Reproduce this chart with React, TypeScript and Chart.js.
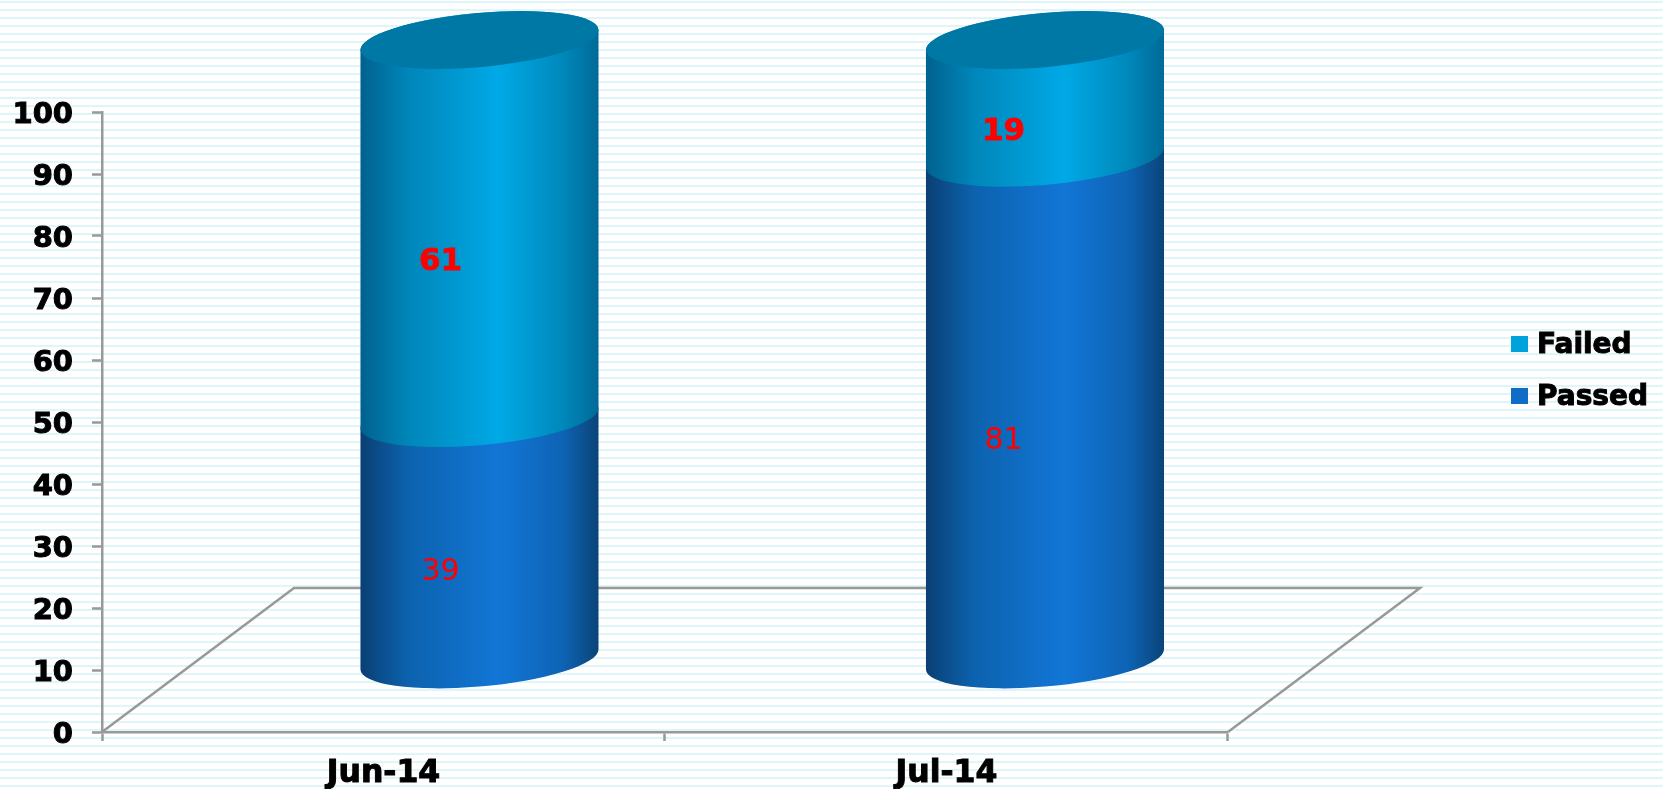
import React, { useEffect, useRef } from "react";
import { Chart, registerables } from "chart.js";

Chart.register(...registerables);

const months = ["Jun-14", "Jul-14"];
const passed = [39, 81];
const failed = [61, 19];
const yTicksMax = 100;

const FONT = "'DejaVu Sans'";
const AXIS_GREY = "#999999";
const AXIS_WIDTH = 2.5;

// Half of the floor depth: the cylinders stand in the middle of the floor.
const DEPTH_X = 96;
const DEPTH_Y = 72;
const SPREAD = 2.5;
const TILT = (-5.07 * Math.PI) / 180;
const MINOR_AXIS = 27;

type Ramp = [number, string][];
const failedRamp: Ramp = [
  [0, "#00618f"],
  [0.2, "#0086b9"],
  [0.58, "#00a9e6"],
  [0.85, "#0088ba"],
  [1, "#006a97"],
];
const passedRamp: Ramp = [
  [0, "#0a3f73"],
  [0.2, "#0c62ae"],
  [0.58, "#1276d6"],
  [0.85, "#0e63b4"],
  [1, "#0a4478"],
];
const CAP_COLOR = "#0078a6";

const cylinder = {
  id: "cylinder",
  beforeDatasetsDraw(chart: any) {
    const { ctx, chartArea: area } = chart;
    const x0 = area.left;
    const x1 = area.right;
    const y0 = area.bottom;

    // Floor outline
    ctx.save();
    ctx.strokeStyle = AXIS_GREY;
    ctx.lineWidth = AXIS_WIDTH;
    ctx.beginPath();
    ctx.moveTo(x0, y0);
    ctx.lineTo(x0 + DEPTH_X * 2, y0 - DEPTH_Y * 2);
    ctx.lineTo(x1 + DEPTH_X * 2, y0 - DEPTH_Y * 2);
    ctx.lineTo(x1, y0);
    ctx.stroke();

    const ramps = [passedRamp, failedRamp];
    const metas = [chart.getDatasetMeta(0), chart.getDatasetMeta(1)];

    months.forEach((_, i) => {
      const first = metas[0].data[i];
      const cx = first.x + DEPTH_X + i * SPREAD;
      const hw = first.width / 2;
      const a = hw * 1.0033;
      const start = Math.atan2(-MINOR_AXIS * Math.sin(TILT), a * Math.cos(TILT));

      const grad = (ramp: Ramp) => {
        const g = ctx.createLinearGradient(cx - hw, 0, cx + hw, 0);
        ramp.forEach(([p, c]) => g.addColorStop(p, c));
        return g;
      };

      metas.forEach((meta, d) => {
        const bar = meta.data[i];
        const yBase = bar.base - DEPTH_Y;
        const yTop = bar.y - DEPTH_Y;
        ctx.fillStyle = grad(ramps[d]);
        ctx.beginPath();
        ctx.ellipse(cx, yBase, a, MINOR_AXIS, TILT, start, start + Math.PI, false);
        ctx.ellipse(cx, yTop, a, MINOR_AXIS, TILT, start + Math.PI, start + 2 * Math.PI, false);
        ctx.closePath();
        ctx.fill();
      });

      const topY = metas[1].data[i].y - DEPTH_Y;
      ctx.fillStyle = CAP_COLOR;
      ctx.beginPath();
      ctx.ellipse(cx, topY, a, MINOR_AXIS, TILT, 0, Math.PI * 2);
      ctx.fill();
    });

    // Value labels sit a little in front of the cylinder centre.
    ctx.fillStyle = "#ff0000";
    ctx.strokeStyle = "#ff0000";
    ctx.lineWidth = 0.8;
    ctx.textAlign = "center";
    ctx.textBaseline = "middle";
    metas.forEach((meta, d) => {
      ctx.font = `${d === 1 ? "bold 31px" : "30px"} ${FONT}`;
      const values = d === 1 ? failed : passed;
      meta.data.forEach((bar: any, i: number) => {
        const lx = bar.x + 57;
        const ly = (bar.y + bar.base) / 2 - 39;
        ctx.fillText(String(values[i]), lx, ly);
        if (d === 1) ctx.strokeText(String(values[i]), lx, ly);
      });
    });
    ctx.restore();
    return false;
  },
  afterLayout(chart: any) {
    // The legend floats beside the floor instead of hugging the canvas edge.
    const legend = chart.legend;
    legend.left = 1491;
    legend.right = 1663;
    legend.top = 306;
    legend.bottom = 440;

    // Optical centring of the value-axis numbers on their tick marks.
    chart.scales.y.getLabelItems().forEach((item: any) => {
      item.options.translation[1] += 3.5;
    });
  },
  afterDraw(chart: any) {
    // Legend lettering, set tighter to the swatches and to the axis-label weight.
    const { ctx, legend } = chart;
    ctx.save();
    ctx.font = `bold 28px ${FONT}`;
    ctx.fillStyle = "#000";
    ctx.strokeStyle = "#000";
    ctx.lineWidth = 1;
    ctx.textAlign = "left";
    ctx.textBaseline = "middle";
    legend.legendItems.forEach((item: any, i: number) => {
      const y = legend.top + 40 + i * 52;
      ctx.fillText(item.text, legend.left + 46, y);
      ctx.strokeText(item.text, legend.left + 46, y);
    });
    ctx.restore();
  },
};

export default function App() {
  const ref = useRef<HTMLCanvasElement>(null);

  useEffect(() => {
    const chart = new Chart(ref.current!, {
      type: "bar",
      data: {
        labels: months,
        datasets: [
          {
            label: "Passed",
            data: passed,
            backgroundColor: "#0f6dc6",
            borderColor: "#0f6dc6",
            borderWidth: 8,
          },
          {
            label: "Failed",
            data: failed,
            backgroundColor: "#00a2dc",
            borderColor: "#00a2dc",
            borderWidth: 8,
          },
        ],
      },
      options: {
        responsive: false,
        animation: false,
        events: [],
        layout: { padding: { top: 112, right: 267, left: 0, bottom: 0 } },
        datasets: { bar: { barPercentage: 0.423, categoryPercentage: 1 } },
        plugins: {
          tooltip: { enabled: false },
          legend: {
            position: "right",
            align: "start",
            reverse: true,
            labels: {
              boxWidth: 9,
              boxHeight: 8,
              padding: 24,
              color: "transparent",
              font: { family: FONT, size: 28, weight: "bold" },
            },
          },
        },
        scales: {
          x: {
            stacked: true,
            afterFit(s: any) {
              s.height = 57;
            },
            grid: {
              drawOnChartArea: false,
              offset: true,
              color: AXIS_GREY,
              tickLength: 9,
              tickWidth: AXIS_WIDTH,
            },
            border: { color: AXIS_GREY, width: AXIS_WIDTH },
            ticks: {
              color: "#000",
              padding: 14,
              textStrokeColor: "#000",
              textStrokeWidth: 1,
              font: { family: FONT, size: 31.5, weight: "bold" },
            },
          },
          y: {
            stacked: true,
            min: 0,
            max: yTicksMax,
            afterFit(s: any) {
              s.width = 102;
            },
            grid: {
              drawOnChartArea: false,
              color: AXIS_GREY,
              tickLength: 10,
              tickWidth: AXIS_WIDTH,
            },
            border: { color: AXIS_GREY, width: AXIS_WIDTH },
            ticks: {
              stepSize: 10,
              color: "#000",
              padding: 19,
              textStrokeColor: "#000",
              textStrokeWidth: 1,
              font: { family: FONT, size: 29, weight: "bold" },
            },
          },
        },
      },
      plugins: [cylinder],
    } as any);
    return () => chart.destroy();
  }, []);

  return (
    <div
      style={{
        position: "fixed",
        left: 0,
        top: 0,
        width: 1663,
        height: 789,
        overflow: "hidden",
        background:
          "repeating-linear-gradient(to bottom, #fff 0 1px, #e0f5fa 1px 3px, #fff 3px 8px)",
      }}
    >
      <canvas ref={ref} width={1663} height={789} style={{ display: "block" }} />
    </div>
  );
}
